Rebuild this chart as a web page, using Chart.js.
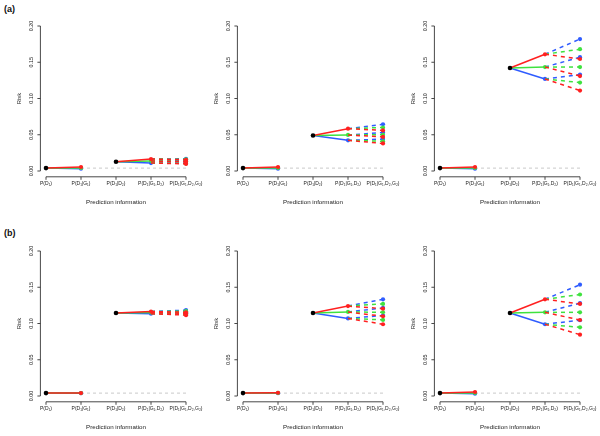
<!DOCTYPE html>
<html>
<head>
<meta charset="utf-8">
<script src="https://cdn.jsdelivr.net/npm/chart.js@4"></script>
<style>
  html, body { margin: 0; padding: 0; background: #fff; }
  #page { position: relative; width: 600px; height: 436px; overflow: hidden; font-family: "Liberation Sans", Arial, sans-serif; }
  #page canvas { position: absolute; }
  .tag { position: absolute; left: 4px; font-weight: bold; font-size: 9px; line-height: 11px; color: #111; }
</style>
</head>
<body>
<div id="page">
  <div class="tag" style="top:4px">(a)</div>
  <div class="tag" style="top:228px">(b)</div>
</div>
<script>
const categories = ["P(D₁)", "P(D₁|G₁)", "P(D₁|D₂)", "P(D₁|G₁,D₂)", "P(D₁|G₁,D₂,G₂)"];
const yTicks = [0, 0.05, 0.10, 0.15, 0.20];
const yTickLabels = ["0.00", "0.05", "0.10", "0.15", "0.20"];
const xTitle = "Prediction information";
const yTitle = "Risk";

// panels in reading order: a1 a2 a3 b1 b2 b3
const baseRisk = [0.004, 0.004, 0.004, 0.004, 0.004, 0.004];
// [red, green, blue]
const riskG1 = [
  [0.0055, 0.0043, 0.0032],
  [0.0055, 0.0043, 0.0032],
  [0.0055, 0.0043, 0.0032],
  [0.0041, 0.0040, 0.0039],
  [0.0045, 0.0042, 0.0039],
  [0.0055, 0.0043, 0.0032]
];
const riskD2 = [0.0128, 0.049, 0.142, 0.1145, 0.1145, 0.1145];
const riskG1D2 = [
  [0.0165, 0.0138, 0.0110],
  [0.0584, 0.0497, 0.0423],
  [0.161, 0.1434, 0.127],
  [0.1165, 0.1152, 0.1135],
  [0.124, 0.1159, 0.107],
  [0.1334, 0.1154, 0.099]
];
// per parent (red, green, blue) -> children [red, green, blue]
const riskG1D2G2 = [
  [[0.0155, 0.0162, 0.0168], [0.0128, 0.0135, 0.0141], [0.0098, 0.0104, 0.0110]],
  [[0.056, 0.060, 0.0645], [0.047, 0.050, 0.053], [0.038, 0.041, 0.044]],
  [[0.1545, 0.168, 0.182], [0.131, 0.1434, 0.157], [0.111, 0.122, 0.133]],
  [[0.1155, 0.117, 0.1185], [0.1140, 0.1152, 0.1165], [0.1115, 0.1128, 0.1142]],
  [[0.1205, 0.127, 0.1334], [0.110, 0.1155, 0.1215], [0.099, 0.105, 0.111]],
  [[0.127, 0.140, 0.1535], [0.1048, 0.1154, 0.128], [0.0846, 0.0947, 0.1045]]
];

const branchColors = ["#ff2020", "#3fe23f", "#2f5cff"];

const rAxes = {
  id: "rAxes",
  afterDraw(chart) {
    const { ctx, chartArea, scales } = chart;
    const x = scales.x, y = scales.y;
    const left = chartArea.left, bottom = chartArea.bottom;
    ctx.save();
    ctx.strokeStyle = "#333";
    ctx.lineWidth = 0.9;
    ctx.beginPath();
    ctx.moveTo(left, y.getPixelForValue(yTicks[0]));
    ctx.lineTo(left, y.getPixelForValue(yTicks[yTicks.length - 1]));
    yTicks.forEach(v => {
      const py = y.getPixelForValue(v);
      ctx.moveTo(left, py);
      ctx.lineTo(left - 3, py);
    });
    ctx.moveTo(x.getPixelForValue(0), bottom);
    ctx.lineTo(x.getPixelForValue(categories.length - 1), bottom);
    categories.forEach((c, i) => {
      const px = x.getPixelForValue(i);
      ctx.moveTo(px, bottom);
      ctx.lineTo(px, bottom + 3);
    });
    ctx.stroke();

    ctx.fillStyle = "#222";
    ctx.textAlign = "center";
    ctx.textBaseline = "middle";
    ctx.font = "5px 'Liberation Sans', Arial, sans-serif";
    categories.forEach((c, i) => ctx.fillText(c, x.getPixelForValue(i), bottom + 7));
    ctx.font = "5.4px 'Liberation Sans', Arial, sans-serif";
    yTickLabels.forEach((t, i) => {
      ctx.save();
      ctx.translate(left - 9.3, y.getPixelForValue(yTicks[i]));
      ctx.rotate(-Math.PI / 2);
      ctx.fillText(t, 0, 0);
      ctx.restore();
    });
    ctx.font = "5.8px 'Liberation Sans', Arial, sans-serif";
    ctx.save();
    ctx.translate(left - 21, (y.getPixelForValue(0) + y.getPixelForValue(0.2)) / 2);
    ctx.rotate(-Math.PI / 2);
    ctx.fillText(yTitle, 0, 0);
    ctx.restore();
    ctx.font = "6.2px 'Liberation Sans', Arial, sans-serif";
    ctx.fillText(xTitle, x.getPixelForValue(2), bottom + 25.7);
    ctx.restore();
  }
};

function seg(x0, y0, x1, y1, color, dashed) {
  return {
    data: [{ x: x0, y: y0 }, { x: x1, y: y1 }],
    borderColor: color,
    backgroundColor: color,
    pointBackgroundColor: color,
    borderWidth: 1.5,
    borderDash: dashed ? [4, 4] : [],
    pointRadius: [0, 2.1],
    pointBorderWidth: 0
  };
}

function makePanel(p) {
  const row = Math.floor(p / 3), col = p % 3;
  const canvas = document.createElement("canvas");
  const h = row === 0 ? 210 : 226;
  canvas.width = 206;
  canvas.height = h;
  canvas.style.left = (col * 197) + "px";
  canvas.style.top = (row === 0 ? 0 : 210) + "px";
  canvas.style.width = "206px";
  canvas.style.height = h + "px";
  document.getElementById("page").appendChild(canvas);

  const datasets = [{
    data: [{ x: 0, y: baseRisk[p] }, { x: 2, y: riskD2[p] }],
    showLine: false,
    pointRadius: 2.3,
    pointBorderWidth: 0,
    pointBackgroundColor: "#000",
    borderColor: "#000"
  }];
  branchColors.forEach((color, k) => {
    datasets.push(seg(0, baseRisk[p], 1, riskG1[p][k], color, false));
    datasets.push(seg(2, riskD2[p], 3, riskG1D2[p][k], color, false));
    riskG1D2[p].forEach((parent, j) => {
      datasets.push(seg(3, parent, 4, riskG1D2G2[p][j][k], color, true));
    });
  });
  datasets.push({
    data: [{ x: 1, y: baseRisk[p] }, { x: 4, y: baseRisk[p] }],
    borderColor: "#c4c4c4",
    borderWidth: 0.9,
    borderDash: [3, 3],
    pointRadius: 0
  });

  new Chart(canvas, {
    type: "line",
    data: { datasets },
    options: {
      responsive: false,
      animation: false,
      devicePixelRatio: 1,
      layout: {
        padding: row === 0
          ? { left: 40.4, right: 14.4, top: 20.2, bottom: 33.2 }
          : { left: 40.4, right: 14.4, top: 35.2, bottom: 34.2 }
      },
      plugins: { legend: { display: false }, tooltip: { enabled: false } },
      scales: {
        x: { type: "linear", min: -0.16, max: 4.16, display: false },
        y: { type: "linear", min: -0.008, max: 0.208, display: false }
      }
    },
    plugins: [rAxes]
  });
}

for (let p = 0; p < 6; p++) makePanel(p);
</script>
</body>
</html>
